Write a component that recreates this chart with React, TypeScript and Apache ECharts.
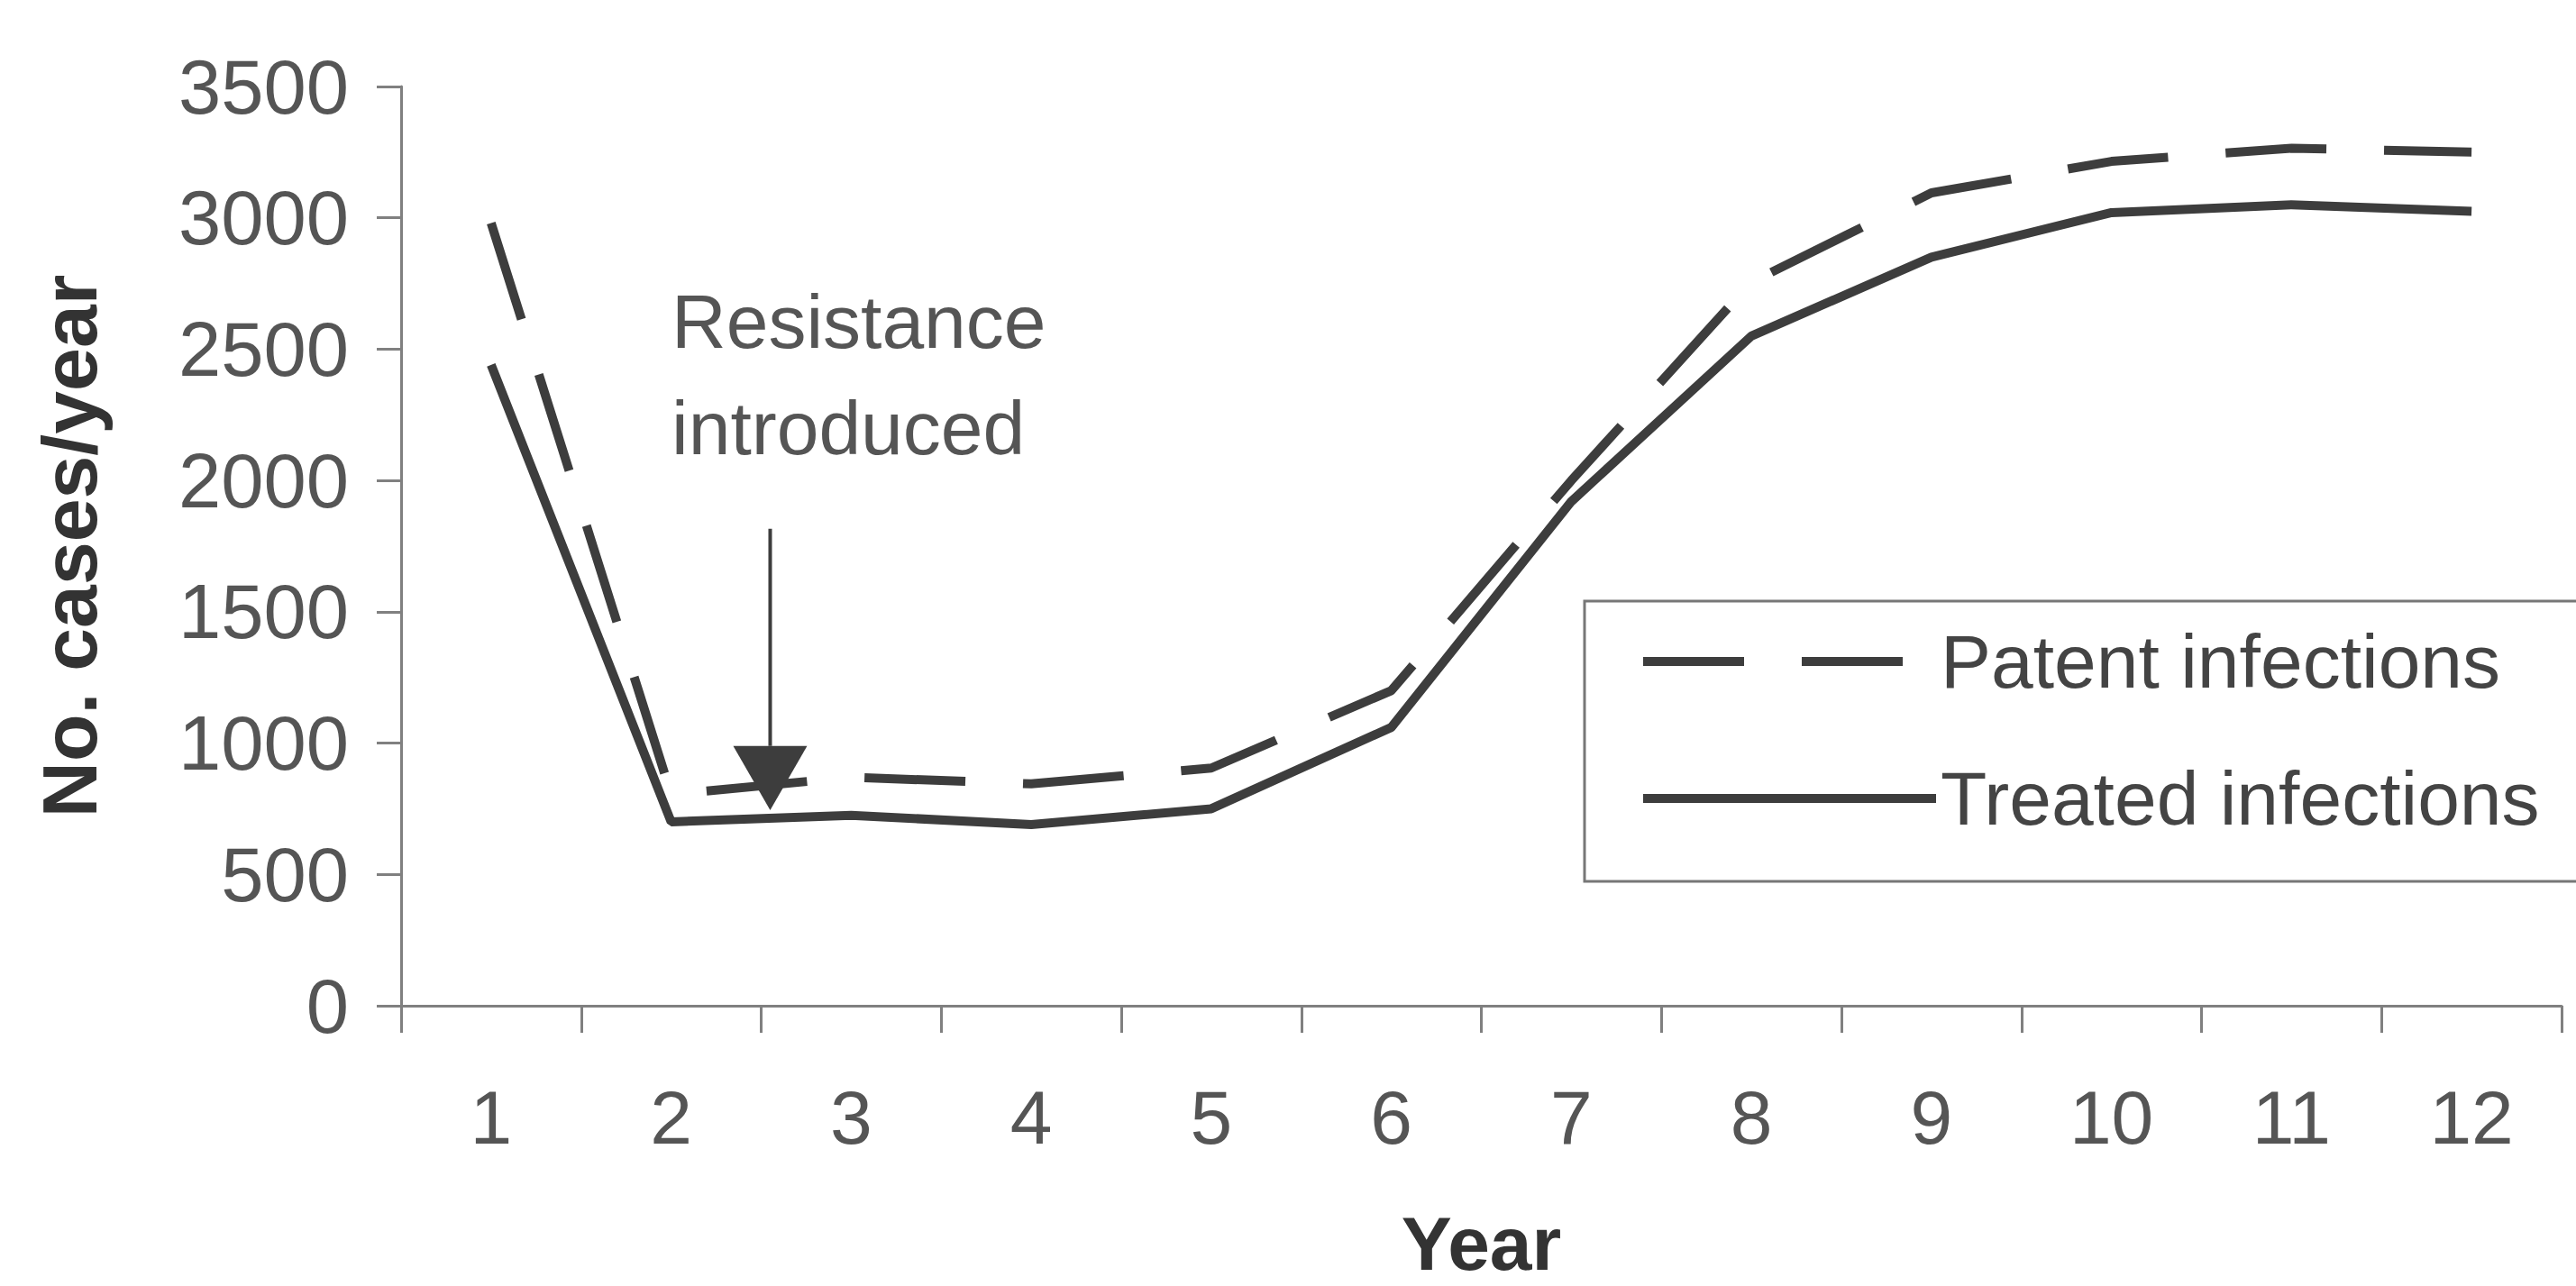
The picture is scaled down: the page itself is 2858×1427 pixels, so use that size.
import React, { useEffect, useRef } from "react";
import * as echarts from "echarts";

const years = ["1", "2", "3", "4", "5", "6", "7", "8", "9", "10", "11", "12"];
const patentInfections = [2980, 805, 870, 845, 905, 1200, 2000, 2755, 3095, 3215, 3265, 3250];
const treatedInfections = [2440, 700, 725, 690, 750, 1060, 1920, 2550, 2850, 3020, 3050, 3025];
const yMin = 0;
const yMax = 3500;
const yInterval = 500;
const seriesNames = ["Patent infections", "Treated infections"];
const annotationLines = ["Resistance", "introduced"];
// arrow: between year index 1 and 2 (fraction), values on the y scale
const arrowCat = 1;
const arrowFrac = 0.55;
const arrowTopValue = 1816;
const arrowHeadTopValue = 989;
const arrowTipValue = 745;

const FONT = "'Liberation Sans', Arial, Helvetica, sans-serif";
const LINE = "#3d3d3d";
const AXIS = "#808080";
const LABEL = "#555555";

export default function App() {
  const ref = useRef<HTMLDivElement>(null);
  useEffect(() => {
    document.body.style.margin = "0";
    const chart = echarts.init(ref.current as HTMLDivElement, null, { renderer: "svg" });
    chart.setOption({
      animation: false,
      backgroundColor: "#ffffff",
      textStyle: { fontFamily: FONT },
      grid: { left: 445, top: 96, right: 16, bottom: 297, containLabel: false },
      legend: {
        orient: "vertical",
        left: 1758,
        top: 667,
        padding: [25, 80, 50, 60],
        itemWidth: 325,
        itemHeight: 40,
        itemGap: 68,
        borderColor: "#777777",
        borderWidth: 3,
        backgroundColor: "#ffffff",
        selectedMode: false,
        textStyle: { fontSize: 84, color: "#444444", fontFamily: FONT },
        lineStyle: { width: 10 },
        itemStyle: { opacity: 0 },
        data: seriesNames,
      },
      xAxis: {
        type: "category",
        data: years,
        boundaryGap: true,
        name: "Year",
        nameLocation: "middle",
        nameGap: 222,
        nameTextStyle: { fontSize: 84, fontWeight: "bold", color: "#333333", fontFamily: FONT },
        axisLine: { show: true, lineStyle: { color: AXIS, width: 3 } },
        axisTick: { show: true, length: 30, lineStyle: { color: AXIS, width: 3 } },
        axisLabel: { fontSize: 84, color: LABEL, margin: 82, fontFamily: FONT },
        splitLine: { show: false },
      },
      yAxis: {
        type: "value",
        min: yMin,
        max: yMax,
        interval: yInterval,
        name: "No. cases/year",
        nameLocation: "middle",
        nameGap: 325,
        nameRotate: 90,
        nameTextStyle: { fontSize: 86, fontWeight: "bold", color: "#333333", fontFamily: FONT },
        axisLine: { show: true, lineStyle: { color: AXIS, width: 3 } },
        axisTick: { show: true, length: 27, lineStyle: { color: AXIS, width: 3 } },
        axisLabel: {
          fontSize: 85,
          color: LABEL,
          margin: 58,
          fontFamily: FONT,
          padding: [0, 0, 18, 0],
          formatter: (v: number) => String(v),
        },
        splitLine: { show: false },
      },
      series: [
        {
          name: seriesNames[0],
          type: "line",
          data: patentInfections,
          symbol: "none",
          itemStyle: { color: LINE },
          lineStyle: { color: LINE, width: 10, type: [112, 64], cap: "butt" },
        },
        {
          name: seriesNames[1],
          type: "line",
          data: treatedInfections,
          symbol: "none",
          itemStyle: { color: LINE },
          lineStyle: { color: LINE, width: 10 },
        },
      ],
    });

    const p1 = chart.convertToPixel({ gridIndex: 0 }, [arrowCat, arrowTopValue]) as number[];
    const p2 = chart.convertToPixel({ gridIndex: 0 }, [arrowCat + 1, arrowTopValue]) as number[];
    const ax = p1[0] + arrowFrac * (p2[0] - p1[0]);
    const yTop = p1[1];
    const yHead = (chart.convertToPixel({ gridIndex: 0 }, [arrowCat, arrowHeadTopValue]) as number[])[1];
    const yTip = (chart.convertToPixel({ gridIndex: 0 }, [arrowCat, arrowTipValue]) as number[])[1];

    chart.setOption({
      graphic: [
        {
          type: "line",
          shape: { x1: ax, y1: yTop, x2: ax, y2: yHead },
          style: { stroke: LINE, lineWidth: 4 },
          z: 10,
        },
        {
          type: "polygon",
          shape: { points: [[ax - 41, yHead], [ax + 41, yHead], [ax, yTip]] },
          style: { fill: LINE },
          z: 10,
        },
        {
          type: "text",
          x: 745,
          y: 298,
          style: {
            text: annotationLines.join("\n"),
            fontSize: 84,
            fontFamily: FONT,
            fill: LABEL,
            lineHeight: 118,
            verticalAlign: "top",
            align: "left",
          },
          z: 10,
        },
      ],
    });

    return () => {
      chart.dispose();
    };
  }, []);

  return (
    <div
      ref={ref}
      style={{ position: "absolute", left: 0, top: 0, width: 2858, height: 1427, background: "#fff" }}
    />
  );
}
